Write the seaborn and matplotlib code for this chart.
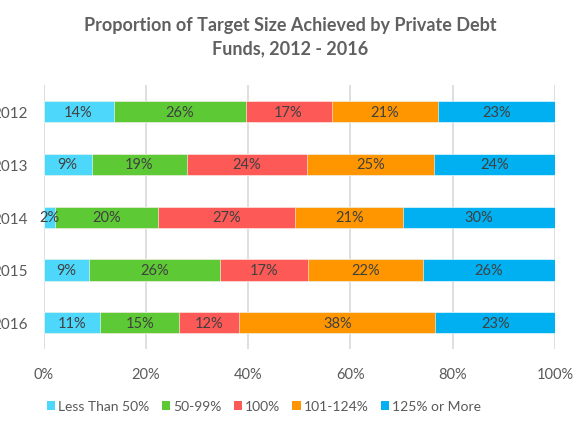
import pandas as pd
import numpy as np
import matplotlib
matplotlib.use("Agg")
import matplotlib.pyplot as plt
import seaborn as sns
from matplotlib.patches import Patch

# Data (percent of funds per target-size bucket)
years = ["2012", "2013", "2014", "2015", "2016"]
categories = ["Less Than 50%", "50-99%", "100%", "101-124%", "125% or More"]
less_than_50 = [13.7, 9.4, 2.3, 8.8, 11.1]
pct_50_99 = [25.8, 18.6, 20.1, 25.8, 15.4]
pct_100 = [16.8, 23.6, 26.8, 17.2, 11.8]
pct_101_124 = [20.8, 24.8, 21.1, 22.4, 38.3]
pct_125_more = [22.9, 23.6, 29.7, 25.8, 23.4]
x_ticks = [0, 20, 40, 60, 80, 100]

colors = ["#4dd8fb", "#5dc935", "#fd5a57", "#ff9600", "#00b0f0"]

series = [less_than_50, pct_50_99, pct_100, pct_101_124, pct_125_more]
rows = []
for cat, vals in zip(categories, series):
    for yr, v in zip(years, vals):
        rows.append({"year": yr, "category": cat, "value": v})
df = pd.DataFrame(rows)
df["category"] = pd.Categorical(df["category"], categories=categories, ordered=True)
df = df.sort_values(["year", "category"])
df["cum"] = df.groupby("year")["value"].cumsum()
df["mid"] = df["cum"] - df["value"] / 2

sns.set_theme(style="white")
plt.rcParams["font.family"] = ["Lato", "DejaVu Sans"]

fig = plt.figure(figsize=(5.8, 4.35), dpi=100)
ax = fig.add_axes([0.075, 0.195, 0.882, 0.607])

# stacked bars: draw cumulative totals from the last bucket to the first
for cat, col in reversed(list(zip(categories, colors))):
    sub = df[df["category"] == cat]
    sns.barplot(data=sub, x="cum", y="year", order=years, color=col,
                orient="h", width=0.4, saturation=1, edgecolor="white",
                linewidth=0.4, ax=ax)

for _, r in df.iterrows():
    ax.text(r["mid"], years.index(r["year"]), f"{r['value']:.0f}%",
            ha="center", va="center", fontsize=10.5, color="#404040")

ax.set_xlim(0, 100)
ax.set_ylim(4.5, -0.5)
ax.set_xticks(x_ticks)
ax.set_xticklabels([f"{t}%" for t in x_ticks])
ax.set_xlabel("")
ax.set_ylabel("")
ax.xaxis.grid(True, color="#d9d9d9", linewidth=1.2)
ax.set_axisbelow(True)
for s in ax.spines.values():
    s.set_visible(False)
ax.tick_params(axis="x", length=0, pad=13, labelsize=10.5, labelcolor="#595959")
ax.tick_params(axis="y", length=0, pad=11, labelsize=11, labelcolor="#595959")

fig.suptitle("Proportion of Target Size Achieved by Private Debt\nFunds, 2012 - 2016",
             x=0.5, y=0.96, fontsize=13, fontweight="bold", color="#606060",
             linespacing=1.4)

handles = [Patch(facecolor=c, edgecolor="none", label=l) for l, c in zip(categories, colors)]
fig.legend(handles=handles, loc="center", bbox_to_anchor=(0.455, 0.064), ncol=5,
           frameon=False, fontsize=10, handlelength=0.6, handleheight=0.6,
           handletextpad=0.2, columnspacing=0.9, labelcolor="#595959")

fig.savefig("out.png", dpi=100)
